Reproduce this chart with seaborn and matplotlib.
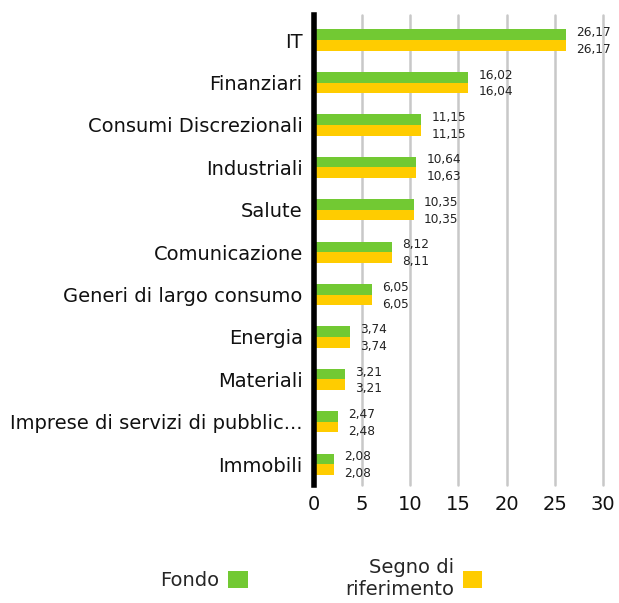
import matplotlib
matplotlib.use("Agg")
import matplotlib.pyplot as plt
import seaborn as sns
import pandas as pd
from matplotlib.patches import Patch

settori = ["IT", "Finanziari", "Consumi Discrezionali", "Industriali", "Salute",
           "Comunicazione", "Generi di largo consumo", "Energia", "Materiali",
           "Imprese di servizi di pubblic...", "Immobili"]
fondo = [26.17, 16.02, 11.15, 10.64, 10.35, 8.12, 6.05, 3.74, 3.21, 2.47, 2.08]
riferimento = [26.17, 16.04, 11.15, 10.63, 10.35, 8.11, 6.05, 3.74, 3.21, 2.48, 2.08]
serie = ["Fondo", "Segno di\nriferimento"]
colori = ["#72c933", "#ffcc00"]

df = pd.DataFrame({
    "settore": settori * 2,
    "valore": fondo + riferimento,
    "serie": [serie[0]] * len(settori) + [serie[1]] * len(settori),
})

sns.set_style("white")
plt.rcParams["font.family"] = ["DejaVu Sans"]

fig = plt.figure(figsize=(6.19, 6.03), dpi=100)
ax = fig.add_axes([0.507, 0.1957, 0.467, 0.7786])

sns.barplot(data=df, y="settore", x="valore", hue="serie", order=settori,
            hue_order=serie, palette=colori, orient="h", width=0.5,
            saturation=1, linewidth=0, ax=ax, legend=False)

# etichette: verde un po' sopra, giallo un po' sotto
for cont, dy in zip(ax.containers, [1.5, -3.0]):
    for barra, v in zip(cont, cont.datavalues):
        yc = barra.get_y() + barra.get_height() / 2
        ax.annotate(f"{v:.2f}".replace(".", ","), (barra.get_width(), yc),
                    xytext=(7.5, dy), textcoords="offset points",
                    ha="left", va="center", fontsize=8.7, color="#222222")

ax.set_xlim(0, 30)
ax.set_xticks(range(0, 31, 5))
ax.set_ylim(10.49, -0.58)
ax.set_xlabel("")
ax.set_ylabel("")
ax.grid(axis="x", color="#c8c8c8", linewidth=1.8)
ax.grid(axis="y", visible=False)
ax.set_axisbelow(True)
for g in ax.get_xgridlines():
    g.set_clip_on(False)
for s in ["top", "right", "bottom"]:
    ax.spines[s].set_visible(False)
ax.spines["left"].set_color("black")
ax.spines["left"].set_linewidth(4)
ax.spines["left"].set_zorder(5)
ax.tick_params(axis="x", length=0, labelsize=14, pad=7, colors="#111111")
ax.tick_params(axis="y", length=0, labelsize=14, pad=8, colors="#111111")

handles = [Patch(facecolor=c, linewidth=0) for c in colori]
leg = fig.legend(handles, serie, ncol=2, markerfirst=False, frameon=False,
                 loc="center", bbox_to_anchor=(0.519, 0.04), fontsize=14,
                 handlelength=1.0, handleheight=1.0, columnspacing=5.0,
                 handletextpad=0.45)
for t in leg.get_texts():
    t.set_multialignment("right")

fig.savefig("out.png", dpi=100)
